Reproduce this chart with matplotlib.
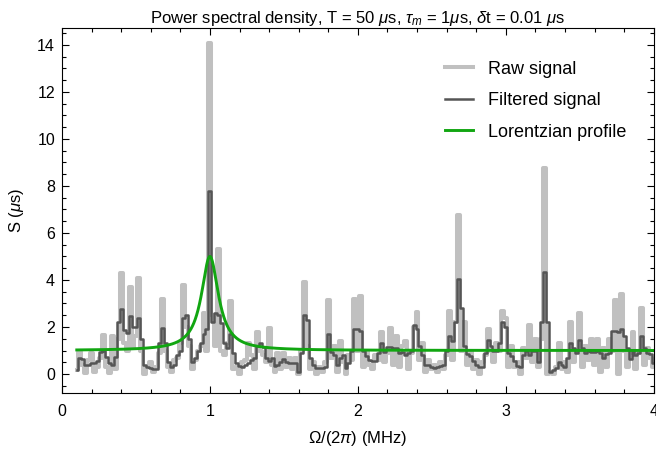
import numpy as np
import matplotlib
matplotlib.use('Agg')
import matplotlib.pyplot as plt
from matplotlib.ticker import MultipleLocator

# ---- data -------------------------------------------------------------
freq_start = 0.1      # MHz
freq_step = 0.02      # MHz (1/T)

raw_signal = [
    0.15, 0.95, 0.40, 0.05, 0.60, 0.88, 0.10, 0.30, 0.70, 1.66,
    0.30, 0.05, 1.60, 0.20, 1.50, 4.30, 1.30, 1.00, 3.70, 1.10,
    1.60, 4.10, 1.00, 0.00, 0.30, 0.50, 0.10, 0.30, 0.90, 3.20,
    1.00, 0.30, 0.10, 0.60, 0.70, 1.30, 3.80, 2.00, 1.20, 0.20,
    0.60, 1.00, 1.20, 2.60, 1.00, 14.10, 2.50, 1.20, 5.30, 1.00,
    0.80, 1.30, 3.10, 0.20, 0.30, 0.00, 0.50, 0.60, 1.30, 0.80,
    0.20, 1.80, 1.00, 0.80, 0.50, 1.95, 0.40, 0.10, 0.90, 0.20,
    0.90, 0.30, 0.70, 0.20, 0.70, 0.00, 1.00, 3.90, 1.20, 0.20,
    0.50, 0.00, 0.30, 0.10, 0.50, 3.15, 0.70, 1.20, 0.10, 1.40,
    0.50, 0.00, 0.80, 0.60, 3.20, 1.00, 3.30, 0.30, 1.00, 0.40,
    0.20, 0.80, 0.60, 1.80, 0.50, 0.90, 1.95, 0.40, 1.60, 0.30,
    1.20, 1.40, 0.20, 0.90, 2.00, 2.65, 0.60, 1.30, 0.10, 0.60,
    0.20, 0.40, 0.10, 0.50, 0.20, 0.80, 2.70, 0.60, 2.20, 6.75,
    1.00, 2.20, 0.40, 1.00, 0.20, 0.60, 0.00, 0.50, 0.80, 1.90,
    1.00, 0.50, 1.30, 1.00, 2.70, 2.40, 0.30, 1.20, 0.30, 0.50,
    0.00, 1.10, 0.70, 2.10, 0.50, 1.50, 0.30, 1.50, 8.75, 0.00,
    0.10, 0.00, 0.30, 1.30, 0.20, 0.50, 0.10, 2.20, 0.50, 1.00,
    2.60, 0.30, 1.20, 0.60, 1.50, 0.40, 1.50, 0.10, 1.10, 0.30,
    1.50, 1.00, 3.15, 0.00, 3.40, 1.00, 0.30, 0.90, 1.80, 0.20,
    0.90, 2.80, 0.40, 1.10, 0.70, 0.30,
]

filtered_signal = [
    0.17, 0.67, 0.65, 0.38, 0.40, 0.45, 0.45, 0.55, 0.95, 1.00,
    0.74, 0.45, 0.38, 0.74, 2.20, 2.77, 1.87, 1.73, 2.47, 2.00,
    2.00, 2.37, 1.50, 0.38, 0.30, 0.25, 0.20, 0.20, 1.30, 1.95,
    1.30, 0.50, 0.30, 0.40, 0.80, 1.00, 2.37, 2.50, 1.50, 0.50,
    0.70, 1.00, 1.30, 1.70, 1.90, 7.80, 2.20, 2.60, 2.50, 2.15,
    1.30, 1.10, 1.70, 0.90, 0.45, 0.35, 0.30, 0.40, 0.45, 0.60,
    0.70, 1.20, 1.30, 1.15, 0.70, 0.55, 0.70, 0.35, 0.40, 0.50,
    0.65, 0.50, 0.45, 0.45, 0.45, 0.10, 0.90, 2.50, 2.30, 0.70,
    0.40, 0.25, 0.25, 0.25, 0.30, 1.70, 0.95, 0.80, 0.40, 0.70,
    0.80, 0.25, 0.45, 1.00, 1.90, 1.90, 1.85, 1.00, 0.75, 0.60,
    0.55, 0.55, 0.90, 1.30, 0.95, 1.15, 1.16, 1.10, 1.10, 0.90,
    0.95, 0.80, 0.90, 1.00, 2.10, 1.90, 1.20, 0.80, 0.40, 0.40,
    0.30, 0.25, 0.30, 0.35, 0.40, 1.00, 1.60, 1.40, 2.20, 4.05,
    2.80, 1.20, 0.85, 0.75, 0.55, 0.40, 0.30, 0.30, 0.90, 1.45,
    1.20, 1.00, 1.00, 1.30, 2.20, 2.00, 0.90, 0.75, 0.55, 0.35,
    0.30, 0.80, 1.00, 0.80, 1.00, 1.00, 0.50, 2.20, 4.35, 2.20,
    0.10, 0.15, 0.25, 0.50, 0.40, 0.30, 0.70, 1.30, 1.10, 0.90,
    1.45, 1.10, 0.90, 1.00, 0.95, 0.95, 1.00, 0.90, 0.70, 0.85,
    0.90, 1.85, 1.85, 1.80, 1.90, 1.60, 1.10, 0.65, 1.00, 0.80,
    0.90, 1.60, 1.10, 0.90, 0.85, 0.45,
]

# Lorentzian profile parameters
lor_baseline = 1.0
lor_amplitude = 4.0
lor_center = 1.0
lor_halfwidth = 0.07

x_ticks = [0, 1, 2, 3, 4]
y_ticks = [0, 2, 4, 6, 8, 10, 12, 14]

# ---- style ------------------------------------------------------------
plt.rcParams['font.family'] = ['Liberation Sans', 'DejaVu Sans']
plt.rcParams['mathtext.fontset'] = 'custom'
plt.rcParams['mathtext.rm'] = 'Liberation Sans'
plt.rcParams['mathtext.it'] = 'Liberation Sans:italic'
plt.rcParams['mathtext.bf'] = 'Liberation Sans:bold'

freq = freq_start + freq_step * np.arange(len(raw_signal))
f_fine = np.linspace(freq[0], freq[-1], 2000)
lorentz = lor_baseline + lor_amplitude / (1 + ((f_fine - lor_center) / lor_halfwidth) ** 2)

fig = plt.figure(figsize=(6.56, 4.51), dpi=100)
ax = fig.add_axes([0.0945, 0.129, 0.902, 0.809])

ax.plot(freq, raw_signal, drawstyle='steps-mid', color='#c0c0c0', lw=2.9,
        label='Raw signal')
ax.plot(freq, filtered_signal, drawstyle='steps-mid', color='#555555', lw=1.8,
        label='Filtered signal')
ax.plot(f_fine, lorentz, color='#11a611', lw=2.1, label='Lorentzian profile')

ax.set_xlim(0, 4)
ax.set_ylim(-0.8, 14.72)
ax.set_xticks(x_ticks)
ax.set_yticks(y_ticks)
ax.xaxis.set_minor_locator(MultipleLocator(0.2))
ax.yaxis.set_minor_locator(MultipleLocator(0.5))
ax.tick_params(which='both', direction='in', top=True, right=True,
               labelsize=11.5, width=0.8, color='black')
ax.tick_params(which='major', length=5)
ax.tick_params(axis='x', which='major', pad=8)
ax.tick_params(axis='y', which='major', pad=5)
ax.tick_params(which='minor', length=2.8)
for s in ax.spines.values():
    s.set_linewidth(0.8)

ax.set_xlabel(r'$\Omega/(2\pi)$ (MHz)', fontsize=12, labelpad=7)
ax.set_ylabel(r'S ($\mu$s)', fontsize=12, labelpad=8)
ax.set_title(r'Power spectral density, T = 50 $\mu$s, $\tau_m$ = 1$\mu$s, $\delta$t = 0.01 $\mu$s',
             fontsize=12, pad=3)

leg = ax.legend(loc='upper left', bbox_to_anchor=(0.619, 0.955), frameon=False,
                fontsize=13, handlelength=1.6, labelspacing=0.8, handletextpad=0.8)

fig.savefig('out.png', dpi=100)
